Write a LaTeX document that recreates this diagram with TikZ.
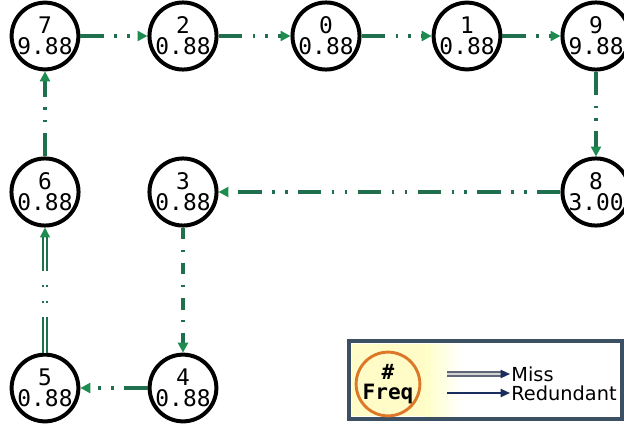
\documentclass[tikz,border=0pt]{standalone}
\usepackage{fontspec}
\setsansfont{DejaVu Sans}
\setmonofont{DejaVu Sans Mono}
\usetikzlibrary{arrows.meta}
\definecolor{pathgreen}{RGB}{32,112,78}
\definecolor{tipgreen}{RGB}{30,140,80}
\definecolor{keyframe}{RGB}{60,80,100}
\definecolor{keyorange}{RGB}{220,120,40}
\definecolor{keynavy}{RGB}{25,45,95}

\begin{document}
\begin{tikzpicture}[x=0.03cm,y=-0.03cm,
    state/.style={circle,draw,line width=3.4pt,fill=white,minimum size=1.95cm,inner sep=0pt,
      align=center,font=\ttfamily\fontsize{19.5}{18}\selectfont},
    hop/.style={draw=pathgreen,line width=2.6pt,
      dash pattern=on 20pt off 9pt on 2pt off 9pt on 2pt off 9pt,
      -{Triangle[length=8.5pt,width=8.5pt,color=tipgreen]}},
    hopdot/.style={hop,dash pattern=on 10pt off 9pt on 2pt off 9pt},
    miss/.style={hop,line width=1.3pt,double=white,double distance=2pt,
      dash pattern=on 30pt off 12pt on 2pt off 12pt on 2pt off 12pt}]
  \useasboundingbox (0,0) rectangle (624,424);

  % states with their frequency
  \foreach \id/\f/\x/\y in {7/9.88/45/36, 2/0.88/183/36, 0/0.88/326/36, 1/0.88/467/36,
      9/9.88/596/36, 6/0.88/45/192, 3/0.88/183/192, 8/3.00/596/192,
      5/0.88/45/388, 4/0.88/183/388}
  {
    \node[state] (n\id) at (\x,\y) {\id\\\f};
  }

  \draw[hop] (n7) -- (n2);
  \draw[hop] (n2) -- (n0);
  \draw[hop] (n0) -- (n1);
  \draw[hop] (n1) -- (n9);
  \draw[hop] (n9) -- (n8);
  \draw[hop] (n8) -- (n3);
  \draw[hopdot] (n3) -- (n4);
  \draw[hop] (n4) -- (n5);
  \draw[miss] (n5) -- (n6);
  \draw[hop] (n6) -- (n7);

  % key
  \draw[keyframe,line width=3.4pt,fill=white] (349,341) rectangle (622,419);
  \fill[yellow!22] (352,344) rectangle (425,416);
  \shade[left color=yellow!22,right color=white] (425,344) rectangle (462,416);
  \node[circle,draw=keyorange,line width=2.5pt,minimum size=1.9cm,inner sep=0pt,align=center,
    font=\ttfamily\bfseries\fontsize{18}{16.5}\selectfont] (key) at (388,384) {\#\\Freq};
  \coordinate (missfrom) at (447,374);
  \coordinate (redfrom) at (447,393);
  \node[anchor=west,inner sep=1pt,font=\sffamily\fontsize{16.5}{16.5}\selectfont] (misslbl) at (510,374) {Miss};
  \node[anchor=west,inner sep=1pt,font=\sffamily\fontsize{16.5}{16.5}\selectfont] (redlbl) at (510,393) {Redundant};
  \draw[line width=1.4pt,draw=gray!70!keynavy,double=gray!35,double distance=1.6pt,
    -{Triangle[length=8pt,width=7pt,color=keynavy]}] (missfrom) -- (misslbl.west);
  \draw[line width=1.5pt,keynavy,-{Triangle[length=8pt,width=7pt]}] (redfrom) -- (redlbl.west);
\end{tikzpicture}
\end{document}
